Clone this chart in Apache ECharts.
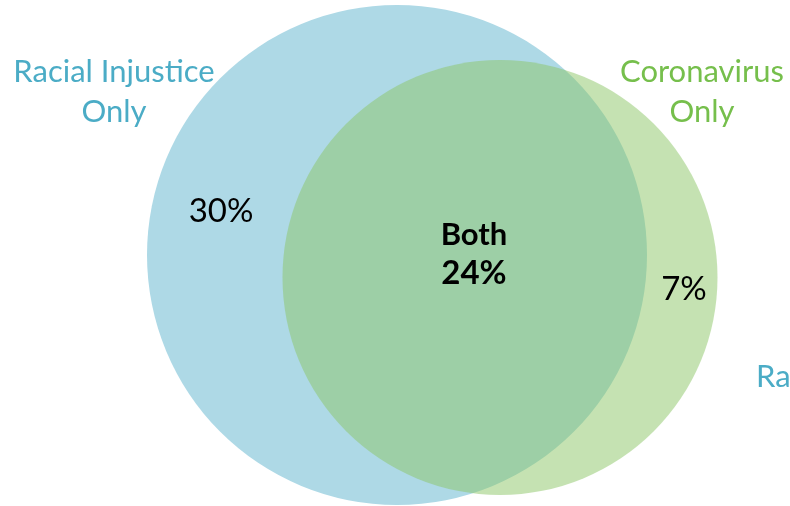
<!DOCTYPE html>
<html>
<head>
<meta charset="utf-8">
<script src="https://cdn.jsdelivr.net/npm/echarts@6/dist/echarts.min.js"></script>
<style>
  html, body { margin: 0; padding: 0; background: #fff; }
  #chart { width: 790px; height: 506px; }
</style>
</head>
<body>
<div id="chart"></div>
<script>
// Sets and region shares
const setNames = ['Racial Injustice', 'Coronavirus'];
const regionNames = ['Racial Injustice Only', 'Both', 'Coronavirus Only'];
const regionValues = [30, 24, 7];

// Layout (plot units match pixels on a 790 x 506 plane)
const circleLayout = [
  { cx: 397, cy: 255, r: 250, fill: '#aed9e6' },
  { cx: 500, cy: 277.5, r: 217.5, fill: 'rgba(139,197,101,0.5)' }
];
const valueLabelPos = [[221, 211], [474, 273], [684, 289]];
const bothTitlePos = [474, 235];
const setTitlePos = [[114, 73], [702, 73]];
const setTitleColors = ['#4bacc6', '#76bf4c'];
const strayTitlePos = [756, 377];

const FONT = 'Lato, "Noto Sans", sans-serif';

const circleData = circleLayout.map((c, i) => ({ name: setNames[i], value: [c.cx, c.cy, c.r, i] }));

const valueLabels = regionValues.map((v, i) => ({
  name: regionNames[i],
  value: valueLabelPos[i],
  label: {
    formatter: v + '%',
    fontWeight: i === 1 ? 'bold' : 'normal'
  }
}));

const titleLabels = setNames.map((n, i) => ({
  name: n,
  value: setTitlePos[i],
  label: {
    formatter: n + '\nOnly',
    color: setTitleColors[i],
    verticalAlign: 'top',
    align: 'center',
    padding: [-21, 0, 0, 0]
  }
}));

const chart = echarts.init(document.getElementById('chart'), null, { renderer: 'canvas' });
chart.setOption({
  animation: false,
  backgroundColor: '#ffffff',
  grid: { left: 0, right: 0, top: 0, bottom: 0 },
  xAxis: { type: 'value', min: 0, max: 790, show: false },
  yAxis: { type: 'value', min: 0, max: 506, inverse: true, show: false },
  series: [
    {
      type: 'custom',
      coordinateSystem: 'cartesian2d',
      data: circleData,
      renderItem: function (params, api) {
        const c = api.coord([api.value(0), api.value(1)]);
        const s = api.size([api.value(2), api.value(2)]);
        const style = circleLayout[api.value(3)];
        return {
          type: 'circle',
          shape: { cx: c[0], cy: c[1], r: s[0] },
          style: { fill: style.fill }
        };
      },
      z: 1
    },
    {
      type: 'scatter',
      symbolSize: 0,
      z: 5,
      itemStyle: { opacity: 1 },
      label: {
        show: true,
        position: 'inside',
        color: '#000',
        opacity: 1,
        fontFamily: FONT,
        fontSize: 33
      },
      data: valueLabels.concat([{
        name: 'Both',
        value: bothTitlePos,
        label: { formatter: 'Both', fontWeight: 'bold', fontSize: 31 }
      }])
    },
    {
      type: 'scatter',
      symbolSize: 0,
      z: 5,
      itemStyle: { opacity: 1 },
      label: {
        show: true,
        position: 'inside',
        opacity: 1,
        fontFamily: FONT,
        fontSize: 31,
        lineHeight: 40
      },
      data: titleLabels.concat([{
        name: setNames[0],
        value: strayTitlePos,
        label: {
          formatter: setNames[0],
          color: setTitleColors[0],
          align: 'left'
        }
      }])
    }
  ]
});
</script>
</body>
</html>
